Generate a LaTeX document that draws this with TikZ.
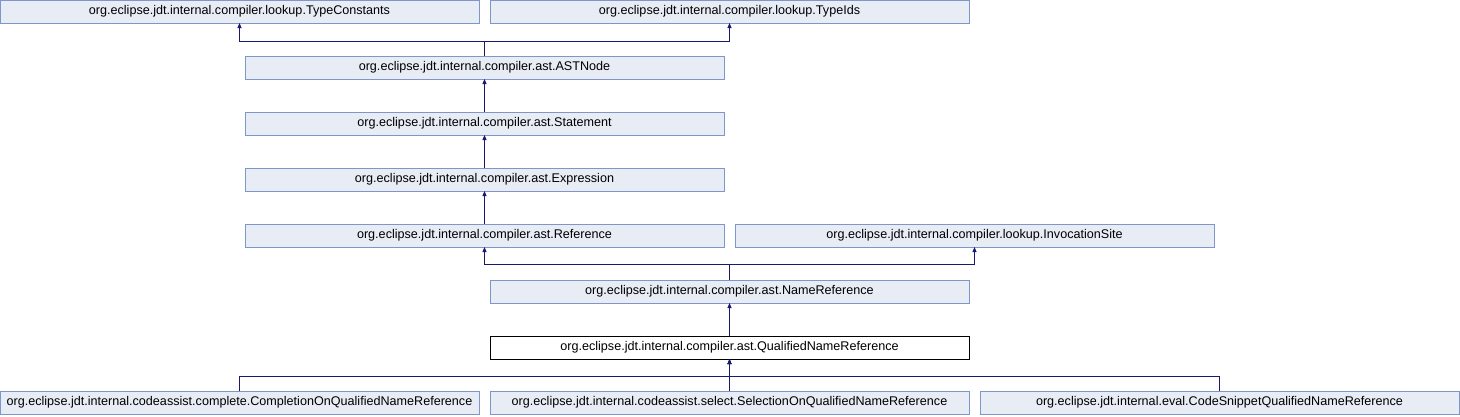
\documentclass[tikz,border=0pt]{standalone}
\usepackage{fontspec}
\setmainfont{Liberation Sans}
\usepackage{tikz}
\usetikzlibrary{arrows.meta,positioning,calc}
\definecolor{clsfill}{HTML}{E8ECF4}
\definecolor{clsedge}{HTML}{7F96C8}
\definecolor{inhblue}{HTML}{191970}
\tikzset{
  cls/.style={draw=clsedge, line width=0.8pt, fill=clsfill, inner sep=0pt, outer sep=0pt, minimum width=479pt, minimum height=23pt, font=\fontsize{12.6}{14}\selectfont},
  clshere/.style={cls, draw=black, fill=white},
  inh/.style={-{Triangle[length=5pt,width=4pt]}, line width=0.9pt, draw=inhblue}
}

\begin{document}
\begin{tikzpicture}[x=1pt, y=-1pt, node distance=33pt and 11pt]
  \useasboundingbox (0,0) rectangle (1460,416);
  \node[cls] (typeconstants) at (239.5,11.5) {org.eclipse.jdt.internal.compiler.lookup.TypeConstants};
  \node[cls, right=of typeconstants] (typeids) {org.eclipse.jdt.internal.compiler.lookup.TypeIds};
  \node[cls] (astnode) at (484.5,67.5) {org.eclipse.jdt.internal.compiler.ast.ASTNode};
  \node[cls, below=of astnode] (statement) {org.eclipse.jdt.internal.compiler.ast.Statement};
  \node[cls, below=of statement] (expression) {org.eclipse.jdt.internal.compiler.ast.Expression};
  \node[cls, below=of expression] (reference) {org.eclipse.jdt.internal.compiler.ast.Reference};
  \node[cls, right=of reference] (invocationsite) {org.eclipse.jdt.internal.compiler.lookup.InvocationSite};
  \node[cls] (namereference) at (729.5,291.5) {org.eclipse.jdt.internal.compiler.ast.NameReference};
  \node[clshere, below=of namereference] (qualifiednameref) {org.eclipse.jdt.internal.compiler.ast.QualifiedNameReference};
  \node[cls, below=32pt of qualifiednameref] (selection) {org.eclipse.jdt.internal.codeassist.select.SelectionOnQualifiedNameReference};
  \node[cls, left=of selection] (completion) {org.eclipse.jdt.internal.codeassist.complete.CompletionOnQualifiedNameReference};
  \node[cls, right=of selection] (codesnippet) {org.eclipse.jdt.internal.eval.CodeSnippetQualifiedNameReference};

  % inheritance edges
  \draw[inh] (astnode.north) -- ++(0,-15) -| (typeconstants.south);
  \draw[inh] (astnode.north) -- ++(0,-15) -| (typeids.south);
  \draw[inh] (statement) -- (astnode);
  \draw[inh] (expression) -- (statement);
  \draw[inh] (reference) -- (expression);
  \draw[inh] (namereference.north) -- ++(0,-16) -| (reference.south);
  \draw[inh] (namereference.north) -- ++(0,-16) -| (invocationsite.south);
  \draw[inh] (qualifiednameref) -- (namereference);
  \draw[inh] (completion.north) -- ++(0,-15) -| (qualifiednameref.south);
  \draw[inh] (selection) -- (qualifiednameref);
  \draw[inh] (codesnippet.north) -- ++(0,-15) -| (qualifiednameref.south);
\end{tikzpicture}
\end{document}
